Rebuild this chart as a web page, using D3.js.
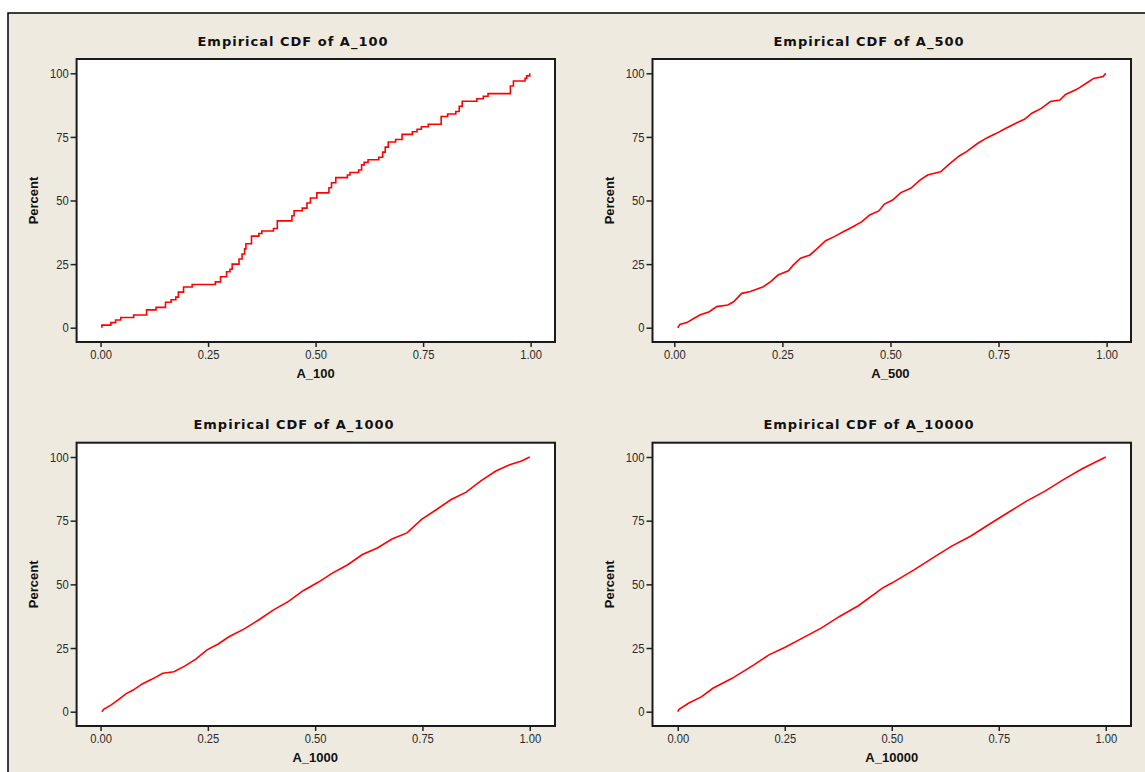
<!DOCTYPE html>
<html>
<head>
<meta charset="utf-8">
<script src="https://cdn.jsdelivr.net/npm/d3@7"></script>
<style>
  body { margin: 0; background: #fff; }
  .tick text { font-family: "Liberation Sans", Arial, sans-serif; font-size: 13px; fill: #2a2a2a; }
  .title { font-family: "DejaVu Sans", sans-serif; font-weight: bold; font-size: 13px; letter-spacing: 1px; fill: #111; }
  .axis-label { font-family: "Liberation Sans", Arial, sans-serif; font-weight: bold; font-size: 13px; fill: #111; }
</style>
</head>
<body>
<div id="container"></div>
<script>
// Chart dimensions
const width = 1145;
const height = 772;
const squeeze = 0.86; // narrow look of the tick labels

// Tick values shared by all four panels
const xTicks = [0, 0.25, 0.5, 0.75, 1];
const yTicks = [0, 25, 50, 75, 100];

// A_100: jump points of the empirical CDF (value, cumulative percent)
const a100X = [0.003, 0.024, 0.035, 0.047, 0.077, 0.107, 0.129, 0.151, 0.164, 0.175, 0.181, 0.193, 0.213,
  0.267, 0.279, 0.293, 0.301, 0.306, 0.322, 0.329, 0.335, 0.338, 0.351, 0.368, 0.375, 0.402, 0.411,
  0.445, 0.450, 0.469, 0.480, 0.488, 0.503, 0.531, 0.537, 0.547, 0.574, 0.580, 0.600, 0.607, 0.613,
  0.622, 0.647, 0.656, 0.662, 0.669, 0.686, 0.701, 0.725, 0.736, 0.746, 0.762, 0.792, 0.807, 0.826,
  0.834, 0.841, 0.875, 0.890, 0.901, 0.953, 0.960, 0.987, 0.991, 0.998];
const a100Pct = [1, 2, 3, 4, 5, 7, 8, 10, 11, 12, 14, 16, 17,
  18, 20, 22, 23, 25, 27, 29, 31, 33, 36, 37, 38, 39, 42,
  44, 46, 47, 49, 51, 53, 55, 57, 59, 60, 61, 62, 64, 65,
  66, 67, 69, 71, 73, 74, 76, 77, 78, 79, 80, 83, 84, 85,
  87, 89, 90, 91, 92, 95, 97, 98, 99, 100];

// A_500: points
const a500X = [0.008, 0.013, 0.029, 0.046, 0.059, 0.081, 0.098, 0.124, 0.137, 0.156, 0.176, 0.206, 0.223,
  0.240, 0.264, 0.275, 0.292, 0.314, 0.331, 0.350, 0.370, 0.391, 0.413, 0.434, 0.452, 0.473, 0.486,
  0.505, 0.524, 0.547, 0.569, 0.586, 0.616, 0.638, 0.659, 0.676, 0.702, 0.724, 0.745, 0.767, 0.789,
  0.810, 0.827, 0.849, 0.870, 0.892, 0.905, 0.931, 0.953, 0.970, 0.992, 0.998];
const a500Pct = [0, 1.3, 2, 3.7, 5, 6.3, 8.3, 8.9, 10.2, 13.5, 14.2, 16.1, 18.1,
  20.7, 22.4, 24.6, 27.3, 28.6, 31.2, 34.2, 35.8, 37.7, 39.7, 41.7, 44.3, 45.9, 48.6,
  50.2, 53.1, 54.8, 58.1, 60, 61.3, 64.6, 67.5, 69.2, 72.5, 74.7, 76.4, 78.4, 80.3,
  81.9, 84.3, 86.2, 88.9, 89.5, 91.7, 93.7, 96.1, 98, 98.7, 100];

// A_1000: points
const a1000X = [0.003, 0.007, 0.024, 0.041, 0.059, 0.076, 0.097, 0.119, 0.145, 0.171, 0.197, 0.222, 0.248,
  0.274, 0.300, 0.334, 0.369, 0.403, 0.438, 0.472, 0.507, 0.541, 0.576, 0.610, 0.645, 0.679, 0.714,
  0.748, 0.783, 0.817, 0.852, 0.886, 0.921, 0.955, 0.981, 1.000];
const a1000Pct = [0, 0.9, 2.6, 4.6, 7, 8.5, 10.9, 12.7, 15.1, 15.7, 18, 20.6, 24.3,
  26.6, 29.5, 32.4, 36.1, 40, 43.3, 47.5, 50.8, 54.5, 57.7, 61.7, 64.3, 67.8, 70.2,
  75.5, 79.4, 83.3, 86.2, 90.6, 94.5, 97.1, 98.4, 100];

// A_10000: points
const a10000X = [0.000, 0.003, 0.025, 0.056, 0.082, 0.126, 0.178, 0.213, 0.251, 0.291, 0.335, 0.378, 0.422,
  0.479, 0.500, 0.553, 0.596, 0.640, 0.684, 0.727, 0.771, 0.815, 0.858, 0.902, 0.945, 1.000];
const a10000Pct = [0, 0.9, 3.3, 5.9, 9.2, 13, 18.4, 22.3, 25.3, 28.9, 32.8, 37.4, 41.6,
  48.6, 50.5, 55.8, 60.4, 65, 68.9, 73.5, 78.1, 82.7, 86.6, 91.2, 95.4, 100];

// Panel layout (plot box in pixels, title / label positions)
const panels = [
  { name: "A_100", xs: a100X, ps: a100Pct, step: true,
    box: [76.6, 59, 555, 342], titleX: 293, titleY: 41, labelY: 373, percentX: 33 },
  { name: "A_500", xs: a500X, ps: a500Pct, step: false,
    box: [652.5, 59, 1131, 342], titleX: 869, titleY: 41, labelY: 373, percentX: 609 },
  { name: "A_1000", xs: a1000X, ps: a1000Pct, step: false,
    box: [76.6, 442.7, 555, 726], titleX: 294, titleY: 424, labelY: 757.5, percentX: 33 },
  { name: "A_10000", xs: a10000X, ps: a10000Pct, step: false,
    box: [652.5, 442.7, 1131, 726], titleX: 869, titleY: 424, labelY: 757.5, percentX: 609 }
];

const svg = d3.create("svg").attr("width", width).attr("height", height);
document.getElementById("container").appendChild(svg.node());

// Beige background with the black border at top and left
svg.append("rect").attr("x", 8).attr("y", 13).attr("width", width - 8).attr("height", height - 13)
  .attr("fill", "#eeeae0");
svg.append("path").attr("d", `M8,${height}V13H${width}`)
  .attr("fill", "none").attr("stroke", "#000").attr("stroke-width", 1.5);

panels.forEach(p => {
  const [x0, y0, x1, y1] = p.box;
  const xMin = d3.min(p.xs), xMax = d3.max(p.xs);
  const pad = (xMax - xMin) * 0.059;

  const x = d3.scaleLinear().domain([xMin - pad, xMax + pad]).range([x0, x1]);
  const y = d3.scaleLinear().domain([-5.62, 105.62]).range([y1, y0]);

  const g = svg.append("g");

  // plot area
  g.append("rect").attr("x", x0).attr("y", y0).attr("width", x1 - x0).attr("height", y1 - y0)
    .attr("fill", "#fff");

  // x axis
  g.append("g")
    .attr("transform", `translate(0,${y1})`)
    .call(d3.axisBottom(x).tickValues(xTicks).tickFormat(d3.format(".2f")).tickSize(5).tickSizeOuter(0).tickPadding(3))
    .call(a => a.select(".domain").remove())
    .call(a => a.selectAll(".tick line").attr("stroke", "#222").attr("stroke-width", 1.5))
    .call(a => a.selectAll(".tick text").attr("transform", `scale(${squeeze},1)`));

  // y axis
  g.append("g")
    .attr("transform", `translate(${x0},0)`)
    .call(d3.axisLeft(y).tickValues(yTicks).tickSize(6).tickSizeOuter(0).tickPadding(2))
    .call(a => a.select(".domain").remove())
    .call(a => a.selectAll(".tick line").attr("stroke", "#222").attr("stroke-width", 1.5))
    .call(a => a.selectAll(".tick text")
      .attr("x", -8 / squeeze)
      .attr("transform", `scale(${squeeze},1)`));

  // the curve
  const pts = p.xs.map((v, i) => [v, p.ps[i]]);
  if (p.step) pts.unshift([p.xs[0], 0]);
  g.append("path")
    .datum(pts)
    .attr("fill", "none")
    .attr("stroke", "#ff0000")
    .attr("stroke-width", 1.6)
    .attr("d", d3.line()
      .curve(p.step ? d3.curveStepAfter : d3.curveLinear)
      .x(d => x(d[0]))
      .y(d => y(d[1])));

  // frame
  g.append("rect").attr("x", x0).attr("y", y0).attr("width", x1 - x0).attr("height", y1 - y0)
    .attr("fill", "none").attr("stroke", "#1a1a1a").attr("stroke-width", 2);

  // title
  g.append("text").attr("class", "title")
    .attr("x", p.titleX).attr("y", p.titleY).attr("dy", "0.35em")
    .attr("text-anchor", "middle")
    .text(`Empirical CDF of ${p.name}`);

  // x label
  g.append("text").attr("class", "axis-label")
    .attr("x", x(0.5)).attr("y", p.labelY).attr("dy", "0.35em")
    .attr("text-anchor", "middle")
    .text(p.name);

  // y label
  g.append("text").attr("class", "axis-label")
    .attr("transform", `translate(${p.percentX},${(y0 + y1) / 2}) rotate(-90)`)
    .attr("dy", "0.35em")
    .attr("text-anchor", "middle")
    .text("Percent");
});
</script>
</body>
</html>
